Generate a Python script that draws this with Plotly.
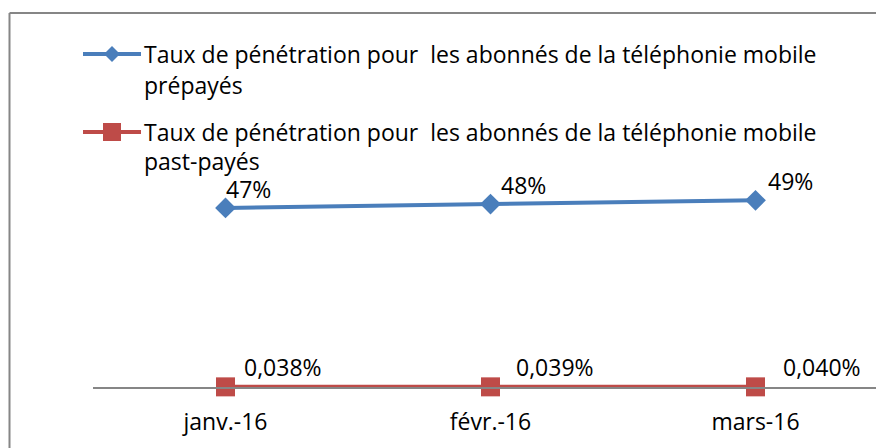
import plotly.graph_objects as go

# ---- data ----
categories = ["janv.-16", "févr.-16", "mars-16"]
prepaid_pct = [47, 48, 49]
postpaid_pct = [0.038, 0.039, 0.040]
prepaid_labels = ["47%", "48%", "49%"]
postpaid_labels = ["0,038%", "0,039%", "0,040%"]
series_names = [
    ["Taux de pénétration pour \u00a0les abonnés de la téléphonie mobile", "prépayés"],
    ["Taux de pénétration pour \u00a0les abonnés de la téléphonie mobile", "past-payés"],
]

# ---- style ----
W, H = 876, 448
L, R, T, B = 93, 0, 13, 61
PX_PER_CAT = 265
PX_PER_PCT = 3.81
BLUE = "#4A7EBB"
RED = "#BE4B48"
GRAY = "#868686"
FONT = "Open Sans, sans-serif"
FS = 23
prepaid_dx = [-2, 8, 10]
postpaid_dx = [16, 23, 25]

plot_w = W - L - R
plot_h = H - T - B


def px(x):
    return (x - L) / plot_w


def py(y):
    return (H - B - y) / plot_h


fig = go.Figure()
fig.add_trace(go.Scatter(
    x=categories, y=prepaid_pct, mode="lines+markers",
    line=dict(color=BLUE, width=4),
    marker=dict(symbol="diamond", size=16, color=BLUE),
    cliponaxis=False, showlegend=False,
))
fig.add_trace(go.Scatter(
    x=categories, y=postpaid_pct, mode="lines+markers",
    line=dict(color=RED, width=4),
    marker=dict(symbol="square", size=19, color=RED),
    cliponaxis=False, showlegend=False,
))

annotations = []
for c, v, t, dx in zip(categories, prepaid_pct, prepaid_labels, prepaid_dx):
    annotations.append(dict(x=c, y=v, text=t, showarrow=False, xanchor="left",
                            yanchor="middle", xshift=dx, yshift=19,
                            font=dict(size=FS, color="#000000", family=FONT)))
for c, v, t, dx in zip(categories, postpaid_pct, postpaid_labels, postpaid_dx):
    annotations.append(dict(x=c, y=v, text=t, showarrow=False, xanchor="left",
                            yanchor="middle", xshift=dx, yshift=20,
                            font=dict(size=FS, color="#000000", family=FONT)))

# manual legend
shapes = []
legend_rows = [(54, 85, BLUE, "diamond"), (132, 161, RED, "square")]
for (y1, y2, col, sym), name in zip(legend_rows, series_names):
    shapes.append(dict(type="line", xref="paper", yref="paper",
                       x0=px(83), x1=px(141), y0=py(y1), y1=py(y1),
                       line=dict(color=col, width=4)))
    if sym == "diamond":
        path = "M {a},{b} L {c},{d} L {a},{e} L {f},{d} Z".format(
            a=px(112), b=py(y1 - 8), c=px(120), d=py(y1), e=py(y1 + 8), f=px(104))
        shapes.append(dict(type="path", xref="paper", yref="paper", path=path,
                           fillcolor=col, line=dict(color=col, width=0)))
    else:
        shapes.append(dict(type="rect", xref="paper", yref="paper",
                           x0=px(103), x1=px(121), y0=py(y1 - 9), y1=py(y1 + 9),
                           fillcolor=col, line=dict(color=col, width=0)))
    for yy, line_text in zip((y1, y2), name):
        annotations.append(dict(xref="paper", yref="paper", x=px(142), y=py(yy),
                                text=line_text, showarrow=False, xanchor="left",
                                yanchor="middle",
                                font=dict(size=FS, color="#000000", family=FONT)))

# chart border (left and top, cropped on the right and bottom)
shapes.append(dict(type="line", xref="paper", yref="paper",
                   x0=px(9.5), x1=px(9.5), y0=py(13), y1=py(470),
                   line=dict(color=GRAY, width=2)))
shapes.append(dict(type="line", xref="paper", yref="paper",
                   x0=px(9.5), x1=px(900), y0=py(13), y1=py(13),
                   line=dict(color=GRAY, width=2)))

fig.update_layout(
    width=W, height=H,
    margin=dict(l=L, r=R, t=T, b=B),
    paper_bgcolor="white", plot_bgcolor="white",
    font=dict(family=FONT, size=FS, color="#000000"),
    xaxis=dict(type="category", range=[-0.5, -0.5 + plot_w / PX_PER_CAT],
               showline=True, linecolor=GRAY, linewidth=1.5, ticks="",
               showgrid=False, zeroline=False, ticklabelstandoff=14,
               tickfont=dict(size=FS, family=FONT, color="#000000")),
    yaxis=dict(range=[0, plot_h / PX_PER_PCT], visible=False, showgrid=False,
               zeroline=False),
    annotations=annotations,
    shapes=shapes,
)

fig.write_html(
    "out.html",
    config={"displayModeBar": False},
    post_script="document.body.style.margin='0';document.body.style.overflow='hidden';",
)
